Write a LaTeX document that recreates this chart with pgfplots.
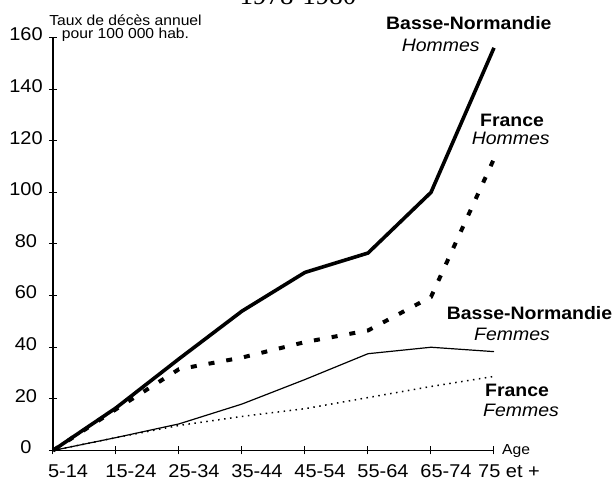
\documentclass[border=0pt]{standalone}
\usepackage{fontspec}
\setmainfont{Liberation Sans}[FakeStretch=1.08]
\newfontfamily\titlefont{Liberation Serif}
\usepackage{pgfplots}
\pgfplotsset{compat=1.18}
\begin{document}
\begin{tikzpicture}
\begin{axis}[
  at={(0,0)}, anchor=south west,
  scale only axis, width=441pt, height=413pt,
  xmin=0, xmax=7, ymin=0, ymax=160,
  axis x line*=bottom, axis y line*=left,
  axis line style={-, line width=1.3pt},
  xtick={0,...,7},
  xticklabels={5-14,15-24,25-34,35-44,45-54,55-64,65-74,75 et +},
  ytick={0,20,...,160},
  tick align=center, major tick length=8pt,
  tick style={line width=1pt, black},
  /pgf/number format/assume math mode=true,
  ticklabel style={font=\fontsize{18.5}{20}\selectfont},
  xticklabel style={anchor=base, xshift=15pt, yshift=-23.5pt, inner sep=0pt},
  yticklabel style={anchor=center, xshift=-23pt, yshift=3pt, inner sep=0pt},
  clip=false,
]
\addplot[black, line width=3.6pt, line join=round] coordinates {
(0,0) (1,16.5) (2,35.5) (3,54) (4,69) (5,76.5) (6,100) (7,156)};
\addplot[black, line width=4pt, dash pattern=on 6pt off 12pt] coordinates {
(0,0) (1,16) (2,31.5) (3,36) (4,42) (5,46.5) (6,59.5) (7,113)};
\addplot[black, line width=1.2pt] coordinates {
(0,0) (1,5) (2,10.3) (3,18) (4,27.5) (5,37.5) (6,40) (7,38.3)};
\addplot[black, line width=1.5pt, dash pattern=on 1.5pt off 4.5pt] coordinates {
(0,0) (1,5) (2,9.7) (3,13.2) (4,16.2) (5,20.5) (6,24.8) (7,28.7)};
\end{axis}
\begin{scope}[every node/.style={inner sep=0pt}]
\node[anchor=base, font=\titlefont\fontsize{27}{30}\selectfont] at (245pt,445.5pt) {1978-1980};
\node[anchor=base, font=\fontsize{14.5}{15}\selectfont] at (72.5pt,424.5pt) {Taux de décès annuel};
\node[anchor=base, font=\fontsize{14.5}{15}\selectfont] at (72.5pt,411.5pt) {pour 100 000 hab.};
\node[anchor=base west, font=\fontsize{18}{20}\selectfont\bfseries] at (333pt,420.5pt) {Basse-Normandie};
\node[anchor=base west, font=\fontsize{18}{20}\selectfont\itshape] at (348.7pt,398.5pt) {Hommes};
\node[anchor=base west, font=\fontsize{18}{20}\selectfont\bfseries] at (427pt,323.5pt) {France};
\node[anchor=base west, font=\fontsize{18}{20}\selectfont\itshape] at (418.7pt,305.5pt) {Hommes};
\node[anchor=base west, font=\fontsize{18}{20}\selectfont\bfseries] at (393.7pt,130.5pt) {Basse-Normandie};
\node[anchor=base west, font=\fontsize{18}{20}\selectfont\itshape] at (421pt,109.8pt) {Femmes};
\node[anchor=base west, font=\fontsize{18}{20}\selectfont\bfseries] at (432pt,53.5pt) {France};
\node[anchor=base west, font=\fontsize{18}{20}\selectfont\itshape] at (430pt,33.5pt) {Femmes};
\node[anchor=base west, font=\fontsize{14.5}{15}\selectfont] at (449pt,-4.5pt) {Age};
\end{scope}
\pgfresetboundingbox
\useasboundingbox (-53pt,-30.5pt) rectangle (560pt,450.5pt);
\end{tikzpicture}
\end{document}
